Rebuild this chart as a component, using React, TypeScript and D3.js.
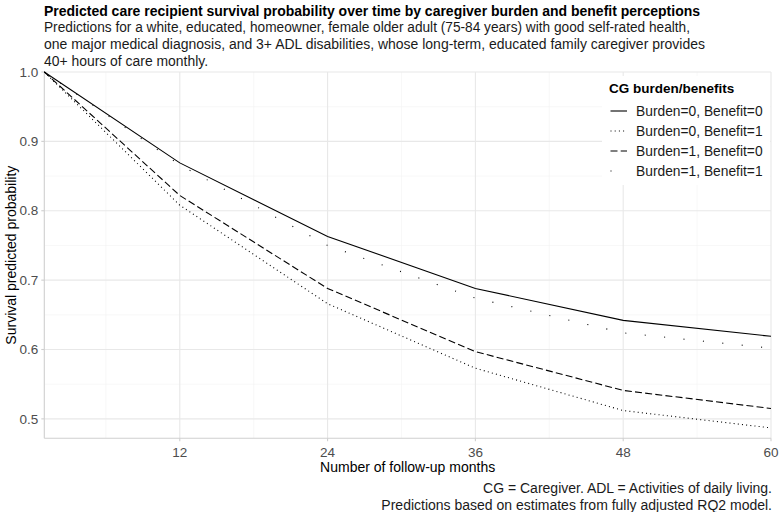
import React from 'react';
import * as d3 from 'd3';

// follow-up months and predicted survival for each burden/benefit group
const months = [1, 12, 24, 36, 48, 60];
const burden0benefit0 = [1.0, 0.869, 0.763, 0.688, 0.642, 0.619];
const burden0benefit1 = [1.0, 0.808, 0.666, 0.573, 0.512, 0.487];
const burden1benefit0 = [1.0, 0.822, 0.688, 0.597, 0.541, 0.515];
const burden1benefit1 = [1.0, 0.866, 0.750, 0.674, 0.624, 0.602];

const groupLabels = [
  'Burden=0, Benefit=0',
  'Burden=0, Benefit=1',
  'Burden=1, Benefit=0',
  'Burden=1, Benefit=1',
];

const xTicks = [12, 24, 36, 48, 60];
const xMinor = [6, 18, 30, 42, 54];
const yTicks = [0.5, 0.6, 0.7, 0.8, 0.9, 1.0];
const yMinor = [0.55, 0.65, 0.75, 0.85, 0.95];

const title =
  'Predicted care recipient survival probability over time by caregiver burden and benefit perceptions';
const subtitle = [
  'Predictions for a white, educated, homeowner, female older adult (75-84 years) with good self-rated health,',
  'one major medical diagnosis, and 3+ ADL disabilities, whose long-term, educated family caregiver provides',
  '40+ hours of care monthly.',
];
const caption = [
  'CG = Caregiver. ADL = Activities of daily living.',
  'Predictions based on estimates from fully adjusted RQ2 model.',
];

const W = 780;
const H = 512;
const left = 44.3;
const right = 771;
const top = 72;
const bottom = 438.3;
const font = "'Liberation Sans', Arial, Helvetica, sans-serif";

// linetypes: solid, dotted, longdash, sparse dots
const dashes = ['none', '1 3.2', '7 3.2', '1 18.5'];

export default function App() {
  const x = d3.scaleLinear().domain([1, 60]).range([left, right]);
  const y = d3.scaleLinear().domain([0.472, 1.0]).range([bottom, top]);

  const series = [burden0benefit0, burden0benefit1, burden1benefit0, burden1benefit1];
  const line = d3
    .line<number>()
    .x((_, i) => x(months[i]))
    .y((d) => y(d));

  const legX = 602;
  const legY = 76;

  return (
    <svg width={W} height={H} style={{ position: 'absolute', left: 0, top: 0, background: '#fff' }} fontFamily={font}>
      <rect x={0} y={0} width={W} height={H} fill="#fff" />
      {/* titles */}
      <text x={44} y={16} fontSize={14} fontWeight="bold" fill="#000" textLength={656} lengthAdjust="spacingAndGlyphs">
        {title}
      </text>
      {subtitle.map((s, i) => (
        <text
          key={i}
          x={44}
          y={32 + i * 17}
          fontSize={14}
          fill="#1a1a1a"
          textLength={i === 0 ? 646 : i === 1 ? 661 : 164}
          lengthAdjust="spacingAndGlyphs"
        >
          {s}
        </text>
      ))}

      {/* grid */}
      {yMinor.map((v) => (
        <line key={'ym' + v} x1={left} x2={right} y1={y(v)} y2={y(v)} stroke="#f3f3f3" strokeWidth={0.6} />
      ))}
      {xMinor.map((v) => (
        <line key={'xm' + v} x1={x(v)} x2={x(v)} y1={top} y2={bottom} stroke="#f3f3f3" strokeWidth={0.6} />
      ))}
      {yTicks.map((v) => (
        <line key={'yg' + v} x1={left} x2={right} y1={y(v)} y2={y(v)} stroke="#e8e8e8" strokeWidth={1.1} />
      ))}
      {xTicks.map((v) => (
        <line key={'xg' + v} x1={x(v)} x2={x(v)} y1={top} y2={bottom} stroke="#e8e8e8" strokeWidth={1.1} />
      ))}

      {/* axis lines & ticks */}
      <line x1={left} x2={left} y1={top} y2={bottom} stroke="#cfcfcf" strokeWidth={1.1} />
      <line x1={left} x2={right} y1={bottom} y2={bottom} stroke="#cfcfcf" strokeWidth={1.1} />
      {yTicks.map((v) => (
        <g key={'yt' + v}>
          <line x1={left - 3} x2={left} y1={y(v)} y2={y(v)} stroke="#cfcfcf" strokeWidth={1.1} />
          <text x={left - 6} y={y(v)} dy="0.35em" textAnchor="end" fontSize={13.5} fill="#4d4d4d">
            {v.toFixed(1)}
          </text>
        </g>
      ))}
      {xTicks.map((v) => (
        <g key={'xt' + v}>
          <line x1={x(v)} x2={x(v)} y1={bottom} y2={bottom + 3} stroke="#cfcfcf" strokeWidth={1.1} />
          <text x={x(v)} y={bottom + 14} dy="0.35em" textAnchor="middle" fontSize={13.5} fill="#4d4d4d">
            {v}
          </text>
        </g>
      ))}
      <text x={(left + right) / 2} y={467} dy="0.35em" textAnchor="middle" fontSize={14} fill="#000">
        Number of follow-up months
      </text>
      <text
        transform={`translate(11, ${(top + bottom) / 2}) rotate(-90)`}
        dy="0.35em"
        textAnchor="middle"
        fontSize={14}
        fill="#000"
      >
        Survival predicted probability
      </text>

      {/* lines */}
      {series.map((s, i) => (
        <path
          key={'s' + i}
          d={line(s) || ''}
          fill="none"
          stroke="#000"
          strokeWidth={1.1}
          strokeDasharray={dashes[i]}
        />
      ))}

      {/* legend */}
      <rect x={legX} y={legY} width={right - legX - 1} height={109} fill="#fff" />
      <text x={609} y={88.5} dy="0.35em" fontSize={13.5} fontWeight="bold" fill="#000">
        CG burden/benefits
      </text>
      {groupLabels.map((g, i) => (
        <g key={'l' + i}>
          <line
            x1={610.5}
            x2={627}
            y1={111 + i * 20}
            y2={111 + i * 20}
            stroke="#000"
            strokeWidth={1.1}
            strokeDasharray={dashes[i]}
          />
          <text x={636} y={111 + i * 20} dy="0.35em" fontSize={13.8} fill="#1a1a1a">
            {g}
          </text>
        </g>
      ))}

      {/* caption */}
      {caption.map((c, i) => (
        <text key={'c' + i} x={772} y={488 + i * 17} dy="0.35em" textAnchor="end" fontSize={14} fill="#1a1a1a">
          {c}
        </text>
      ))}
    </svg>
  );
}
